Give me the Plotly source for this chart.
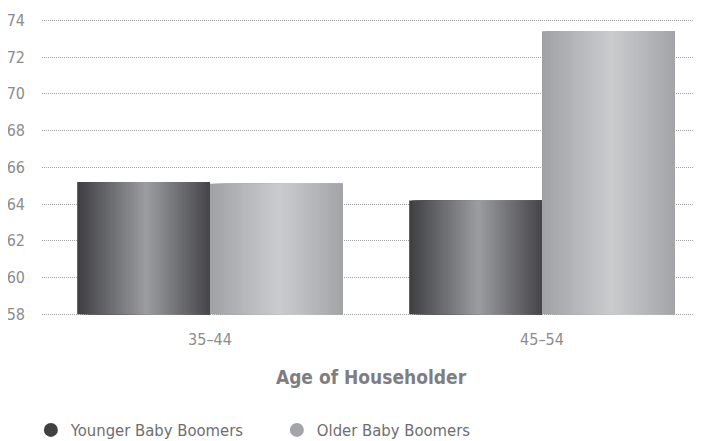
import plotly.graph_objects as go

categories = ["35–44", "45–54"]
younger = [65.2, 64.2]
older = [65.1, 73.4]
series_names = ["Younger Baby Boomers", "Older Baby Boomers"]
y_ticks = [58, 60, 62, 64, 66, 68, 70, 72, 74]

FONT = "DejaVu Sans Condensed, DejaVu Sans, sans-serif"
TXT = "#8c8c8e"

def lerp(c1, c2, t):
    return "rgb(%d,%d,%d)" % tuple(round(a + (b - a) * t) for a, b in zip(c1, c2))

# gradient stops: (edge colour, centre colour)
grads = [((62, 62, 66), (156, 157, 161)), ((160, 161, 165), (203, 204, 206))]
legend_cols = ["#414144", "#a4a5a8"]

fig = go.Figure()
N = 48
bw = 0.4
for s, (vals, (edge, mid)) in enumerate(zip([younger, older], grads)):
    start = -0.4 + s * bw
    for i in range(N):
        t = (i + 0.5) / N
        k = 1 - abs(t - 0.52) / 0.52
        k = max(0.0, min(1.0, k))
        col = lerp(edge, mid, k)
        fig.add_trace(go.Bar(
            x=[0, 1], y=[v - 58 for v in vals], base=58,
            width=bw - i * bw / N, offset=start + i * bw / N,
            marker=dict(color=col, line=dict(width=0)),
            showlegend=False, hoverinfo="skip"))

for name, col in zip(series_names, legend_cols):
    fig.add_trace(go.Scatter(x=[None], y=[None], mode="markers", name=name,
                             marker=dict(symbol="circle", size=14, color=col)))

# the page body adds an 8px offset, so the figure is sized 8px smaller
fig.update_layout(
    width=693, height=433,
    margin=dict(l=34, r=1, t=5, b=123, autoexpand=False),
    paper_bgcolor="white", plot_bgcolor="white",
    barmode="overlay",
    font=dict(family=FONT, color=TXT, size=16),
    showlegend=True,
    legend=dict(orientation="h", x=0.033, xref="container", y=0.025, yref="container",
                xanchor="left", yanchor="middle",
                font=dict(size=16.5, color="#6e6e70"), entrywidth=201, traceorder="normal"),
    xaxis=dict(tickmode="array", tickvals=[0, 1], ticktext=categories,
               range=[-0.506, 1.476], showgrid=False, zeroline=False, showline=False,
               ticks="", ticklabelstandoff=10, automargin=False,
               tickfont=dict(size=16, color=TXT),
               title=dict(text="<b>Age of Householder</b>", font=dict(size=19, color="#7e7e80"),
                          standoff=22)),
    yaxis=dict(range=[57.8, 74.4], tickvals=y_ticks, showgrid=True, gridcolor="#a0a0a0",
               griddash="1px,1px", gridwidth=1, zeroline=False, showline=False, ticks="",
               ticklabelstandoff=16, automargin=False, tickfont=dict(size=16, color=TXT)),
)
fig.write_html("out.html")
